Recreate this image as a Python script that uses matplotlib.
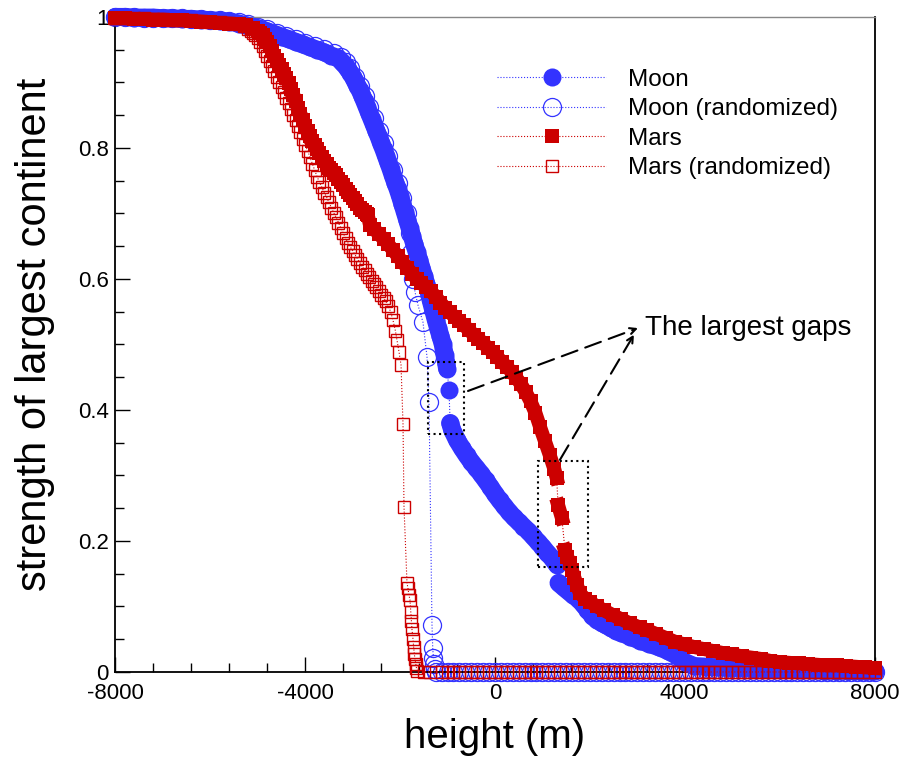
import matplotlib.pyplot as plt
from matplotlib.patches import Rectangle
from matplotlib.ticker import MultipleLocator

plt.rcParams['font.family'] = ['Liberation Sans', 'DejaVu Sans']

# values (height in m, strength of largest continent)
moon_h = [-8000, -7800, -7600, -7400, -7200, -7000, -6800, -6600, -6400, -6200, -6000, -5800, -5600, -5400,
          -5250, -5100, -4950, -4800, -4650, -4500, -4350, -4200, -4050, -3900, -3750, -3600, -3450, -3300,
          -3250, -3200, -3150, -3100, -3050, -3000, -2950, -2900, -2850, -2800, -2750, -2700, -2650, -2600,
          -2550, -2500, -2450, -2400, -2350, -2300, -2250, -2200, -2150, -2100, -2050, -2000, -1950, -1900,
          -1850, -1800, -1750, -1700, -1650, -1600, -1550, -1500, -1450, -1400, -1350, -1300, -1250, -1200,
          -1150, -1100, -1060, -1030, -1010, -970, -945,
          -900, -800, -700, -600, -500, -400, -300, -200, -100, 0, 100, 200, 300, 400, 500, 600, 700, 800,
          900, 1000, 1100, 1200, 1300,
          1340, 1450, 1550, 1650, 1750, 1850, 1950, 2050, 2150, 2250, 2350, 2450, 2550, 2650, 2850, 3050,
          3250, 3450, 3650, 3850, 4000,
          4200, 4450, 4700, 4950, 5200, 5450, 5700, 5950, 6200, 6450, 6700, 6950, 7200, 7450, 7700, 8000]
moon_v = [1.000, 1.000, 0.999, 0.999, 0.999, 0.998, 0.998, 0.997, 0.997, 0.996, 0.995, 0.994, 0.993, 0.990,
          0.987, 0.985, 0.982, 0.978, 0.974, 0.970, 0.966, 0.962, 0.958, 0.954, 0.950, 0.946, 0.941, 0.937,
          0.933, 0.929, 0.925, 0.920, 0.915, 0.909, 0.902, 0.895, 0.888, 0.880, 0.871, 0.862, 0.853, 0.844,
          0.835, 0.826, 0.817, 0.807, 0.798, 0.788, 0.778, 0.768, 0.757, 0.747, 0.737, 0.726, 0.714, 0.702,
          0.690, 0.678, 0.665, 0.653, 0.641, 0.629, 0.617, 0.605, 0.593, 0.580, 0.566, 0.552, 0.538, 0.525,
          0.513, 0.500, 0.484, 0.472, 0.463, 0.430, 0.380,
          0.369, 0.354, 0.342, 0.331, 0.321, 0.312, 0.303, 0.293, 0.283, 0.272, 0.262, 0.253, 0.244, 0.236,
          0.229, 0.222, 0.215, 0.207, 0.199, 0.191, 0.182, 0.174, 0.164,
          0.136, 0.129, 0.123, 0.117, 0.112, 0.104, 0.095, 0.086, 0.079, 0.075, 0.071, 0.067, 0.063, 0.060,
          0.054, 0.048, 0.043, 0.038, 0.032, 0.024, 0.015,
          0.009, 0.008, 0.007, 0.006, 0.006, 0.005, 0.005, 0.004, 0.004, 0.003, 0.003, 0.002, 0.002, 0.002,
          0.001, 0.001]
moon_gaps_after = [-1010, -970, 1300]

zero_tail_h = [-1250, -1125, -1000, -875, -750, -625, -500, -375, -250, -125, 0, 125, 250, 375, 500,
               625, 750, 875, 1000, 1125, 1250, 1375, 1500, 1625, 1750, 1875, 2000, 2125, 2250, 2375,
               2500, 2625, 2750, 2875, 3000, 3125, 3250, 3375, 3500, 3625, 3750, 3875, 4000, 4125, 4250,
               4375, 4500, 4625, 4750, 4875, 5000, 5125, 5250, 5375, 5500, 5625, 5750, 5875, 6000, 6125,
               6250, 6375, 6500, 6625, 6750, 6875, 7000, 7125, 7250, 7375, 7500, 7625, 7750, 7875, 8000]
zero_tail_v = [0.0, 0.0, 0.0, 0.0, 0.0, 0.0, 0.0, 0.0, 0.0, 0.0, 0.0, 0.0, 0.0, 0.0, 0.0,
               0.0, 0.0, 0.0, 0.0, 0.0, 0.0, 0.0, 0.0, 0.0, 0.0, 0.0, 0.0, 0.0, 0.0, 0.0,
               0.0, 0.0, 0.0, 0.0, 0.0, 0.0, 0.0, 0.0, 0.0, 0.0, 0.0, 0.0, 0.0, 0.0, 0.0,
               0.0, 0.0, 0.0, 0.0, 0.0, 0.0, 0.0, 0.0, 0.0, 0.0, 0.0, 0.0, 0.0, 0.0, 0.0,
               0.0, 0.0, 0.0, 0.0, 0.0, 0.0, 0.0, 0.0, 0.0, 0.0, 0.0, 0.0, 0.0, 0.0, 0.0]

moon_rand_h = [-8000, -7800, -7600, -7400, -7200, -7000, -6800, -6600, -6400, -6200, -6000, -5800, -5600,
               -5400, -5200, -5000, -4800, -4600, -4400, -4200, -4000, -3800, -3600, -3400, -3250, -3150,
               -3050, -2950, -2850, -2750, -2650, -2550, -2450, -2350, -2250, -2150, -2050, -1950, -1850,
               -1790, -1760, -1720, -1686, -1623, -1518, -1433, -1391, -1328, -1312, -1298, -1284, -1270]
moon_rand_v = [1.000, 1.000, 1.000, 0.999, 0.999, 0.999, 0.998, 0.998, 0.997, 0.997, 0.996, 0.995, 0.994,
               0.992, 0.989, 0.985, 0.981, 0.976, 0.971, 0.966, 0.961, 0.956, 0.951, 0.945, 0.939, 0.932,
               0.922, 0.909, 0.895, 0.880, 0.863, 0.845, 0.826, 0.807, 0.788, 0.767, 0.746, 0.723, 0.700,
               0.670, 0.640, 0.600, 0.580, 0.560, 0.534, 0.481, 0.412, 0.072, 0.036, 0.022, 0.012, 0.005]

mars_h = [-8000, -7800, -7600, -7400, -7200, -7000, -6800, -6600, -6400, -6200, -6000, -5800, -5600, -5400,
          -5250, -5100, -5000, -4950, -4900, -4850, -4800, -4750, -4700, -4650, -4600, -4550, -4500, -4450,
          -4400, -4350, -4300, -4250, -4200, -4150, -4100, -4050, -4000, -3950, -3900, -3850, -3800, -3750,
          -3700, -3650, -3600, -3550, -3500, -3450, -3400, -3350, -3300, -3250, -3200, -3150, -3100, -3050,
          -3000, -2950, -2900, -2850, -2800, -2750, -2700, -2680,
          -2635, -2550, -2450, -2350, -2250, -2150, -2050, -1950, -1850, -1750, -1650, -1550, -1450, -1350,
          -1250, -1150, -1050, -950, -850, -750, -650, -550, -450, -350, -250, -150, -50, 50, 150, 250,
          350, 450, 550, 650, 750, 850, 950, 1050, 1150, 1250, 1300,
          1330, 1410,
          1475, 1525, 1575, 1625, 1675, 1725, 1790, 1900, 2000, 2150, 2300, 2480, 2650, 2850, 3050, 3200,
          3400, 3600, 3800, 4000, 4200, 4400, 4600, 4800, 5000, 5200, 5400, 5600, 5800, 6000, 6200, 6400,
          6600, 6800, 7000, 7200, 7400, 7600, 7800, 8000]
mars_v = [0.998, 0.998, 0.997, 0.997, 0.996, 0.996, 0.995, 0.995, 0.994, 0.993, 0.992, 0.991, 0.990, 0.989,
          0.987, 0.983, 0.979, 0.976, 0.972, 0.967, 0.962, 0.955, 0.948, 0.941, 0.934, 0.927, 0.920, 0.913,
          0.907, 0.899, 0.890, 0.881, 0.871, 0.861, 0.852, 0.843, 0.834, 0.826, 0.818, 0.810, 0.804, 0.798,
          0.792, 0.786, 0.780, 0.775, 0.770, 0.766, 0.762, 0.758, 0.753, 0.748, 0.743, 0.738, 0.733, 0.728,
          0.723, 0.719, 0.714, 0.709, 0.705, 0.702, 0.699, 0.697,
          0.682, 0.676, 0.669, 0.661, 0.653, 0.644, 0.635, 0.626, 0.617, 0.608, 0.600, 0.594, 0.588, 0.581,
          0.573, 0.564, 0.556, 0.549, 0.542, 0.536, 0.529, 0.522, 0.515, 0.509, 0.502, 0.495, 0.488, 0.481,
          0.473, 0.466, 0.458, 0.449, 0.439, 0.427, 0.413, 0.396, 0.374, 0.353, 0.332, 0.310, 0.296,
          0.255, 0.235,
          0.186, 0.176, 0.166, 0.155, 0.144, 0.133, 0.120, 0.112, 0.107, 0.100, 0.094, 0.087, 0.081, 0.074,
          0.068, 0.064, 0.058, 0.052, 0.046, 0.042, 0.038, 0.035, 0.032, 0.029, 0.027, 0.024, 0.022, 0.020,
          0.017, 0.015, 0.014, 0.013, 0.012, 0.011, 0.010, 0.010, 0.009, 0.008, 0.007, 0.006]
mars_gaps_after = [1300, 1410]

mars_rand_h = [-8000, -7800, -7600, -7400, -7200, -7000, -6800, -6600, -6400, -6200, -6000, -5800, -5600,
               -5400, -5300, -5200, -5150, -5100, -5050, -5000, -4950, -4900, -4850, -4800, -4750, -4700,
               -4650, -4600, -4550, -4500, -4450, -4400, -4350, -4300, -4250, -4200, -4150, -4100, -4050,
               -4000, -3950, -3900, -3850, -3800, -3750, -3700, -3650, -3600, -3550, -3500, -3450, -3400,
               -3350, -3300, -3250, -3200, -3150, -3100, -3050, -3000, -2950, -2900, -2850, -2800, -2750,
               -2700, -2650, -2600, -2550, -2500, -2450, -2400, -2350, -2300, -2250, -2200, -2150, -2100,
               -2066, -2024, -1981, -1939, -1918, -1855, -1835, -1815, -1792, -1775, -1760, -1750, -1728,
               -1715, -1700, -1686, -1670, -1655, -1640, -1500, -1375]
mars_rand_v = [0.999, 0.999, 0.998, 0.998, 0.997, 0.997, 0.996, 0.995, 0.995, 0.994, 0.993, 0.992, 0.991,
               0.989, 0.986, 0.982, 0.979, 0.976, 0.972, 0.968, 0.962, 0.955, 0.948, 0.941, 0.933, 0.925,
               0.917, 0.909, 0.901, 0.893, 0.885, 0.877, 0.868, 0.860, 0.851, 0.842, 0.833, 0.824, 0.814,
               0.805, 0.796, 0.786, 0.776, 0.766, 0.756, 0.748, 0.740, 0.732, 0.725, 0.717, 0.709, 0.701,
               0.694, 0.686, 0.678, 0.670, 0.663, 0.655, 0.649, 0.643, 0.637, 0.631, 0.625, 0.619, 0.614,
               0.608, 0.603, 0.597, 0.592, 0.587, 0.581, 0.576, 0.571, 0.566, 0.559, 0.550, 0.537, 0.521,
               0.507, 0.489, 0.469, 0.379, 0.252, 0.136, 0.128, 0.118, 0.110, 0.092, 0.078, 0.065, 0.050,
               0.038, 0.027, 0.020, 0.012, 0.006, 0.002, 0.0, 0.0]

x_ticks = [-8000, -4000, 0, 4000, 8000]
y_ticks = [0, 0.2, 0.4, 0.6, 0.8, 1]
y_tick_labels = ['0', '0.2', '0.4', '0.6', '0.8', '1']

blue = '#3333ff'
red = '#cc0000'


def split_runs(h, v, gaps_after):
    # contiguous runs of points, broken where the curve shows a visible gap
    runs, cur_h, cur_v = [], [], []
    for x, y in zip(h, v):
        cur_h.append(x)
        cur_v.append(y)
        if x in gaps_after:
            runs.append((cur_h, cur_v))
            cur_h, cur_v = [], []
    if cur_h:
        runs.append((cur_h, cur_v))
    return runs


fig = plt.figure(figsize=(9.05, 7.61), dpi=100)
ax = fig.add_axes([0.1276, 0.117, 0.8387, 0.8607])

# the dense markers of the filled series merge into solid bands
for rh, rv in split_runs(moon_h, moon_v, moon_gaps_after):
    ax.plot(rh, rv, color=blue, lw=13, solid_capstyle='round', solid_joinstyle='round',
            clip_on=False, zorder=3)
for rh, rv in split_runs(mars_h, mars_v, mars_gaps_after):
    ax.plot(rh, rv, color=red, lw=10, solid_capstyle='projecting', solid_joinstyle='miter',
            clip_on=False, zorder=5)

l_moon_r, = ax.plot(moon_rand_h + zero_tail_h, moon_rand_v + zero_tail_v, ls=':', lw=0.8, color=blue,
                    marker='o', ms=13, mfc='none', mec=blue, mew=0.9, clip_on=False, zorder=2.5,
                    label='Moon (randomized)')
l_moon, = ax.plot(moon_h, moon_v, ls=':', lw=0.8, color=blue, marker='o', ms=13,
                  mfc=blue, mec=blue, mew=0, clip_on=False, zorder=3, label='Moon')
l_mars_r, = ax.plot(mars_rand_h + zero_tail_h[1:], mars_rand_v + zero_tail_v[1:], ls=':', lw=0.8,
                    color=red, marker='s', ms=9, mfc='none', mec=red, mew=1.0, clip_on=False, zorder=4,
                    label='Mars (randomized)')
l_mars, = ax.plot(mars_h, mars_v, ls=':', lw=0.8, color=red, marker='s', ms=9.5,
                  mfc=red, mec=red, mew=0, clip_on=False, zorder=5, label='Mars')

ax.set_xlim(-8000, 8000)
ax.set_ylim(0, 1)
ax.set_xticks(x_ticks)
ax.set_xticklabels([str(t) for t in x_ticks])
ax.set_yticks(y_ticks)
ax.set_yticklabels(y_tick_labels)
ax.xaxis.set_minor_locator(MultipleLocator(800))
ax.yaxis.set_minor_locator(MultipleLocator(0.05))
ax.tick_params(which='both', direction='in', top=False, right=False, width=1, labelsize=16)
ax.tick_params(which='major', length=11)
ax.tick_params(which='minor', length=6.5)
ax.tick_params(axis='x', pad=8)
ax.tick_params(axis='y', pad=5)

for side in ['left', 'bottom', 'right']:
    ax.spines[side].set_color('black')
    ax.spines[side].set_linewidth(1.3)
ax.spines['top'].set_color('#888888')
ax.spines['top'].set_linewidth(1)

fig.text(0.547, 0.0315, 'height (m)', fontsize=29, ha='center', va='center')
fig.text(0.0387, 0.56, 'strength of largest continent', fontsize=30, rotation=90,
         ha='center', va='center')

ax.legend(handles=[l_moon, l_moon_r, l_mars, l_mars_r], loc='upper left',
          bbox_to_anchor=(0.5026, 0.921), frameon=False, fontsize=17.5, handlelength=4.5,
          handletextpad=0.9, labelspacing=0.31, borderpad=0, borderaxespad=0, numpoints=1)

# boxes around the largest gaps
ax.add_patch(Rectangle((-1419, 0.363), 766, 0.110, fill=False, ec='black', lw=1.5, ls=':', zorder=6))
ax.add_patch(Rectangle((913, 0.161), 1054, 0.161, fill=False, ec='black', lw=1.5, ls=':', zorder=6))

ax.text(3162, 0.525, 'The largest gaps', fontsize=20, ha='left', va='center')
arrow = dict(arrowstyle='->', lw=1.5, ls=(0, (8, 4)), color='black', shrinkA=0, shrinkB=0,
             mutation_scale=11)
ax.annotate('', xy=(3014, 0.525), xytext=(-569, 0.429), arrowprops=arrow, zorder=7)
ax.annotate('', xy=(2930, 0.515), xytext=(1370, 0.324), arrowprops=arrow, zorder=7)

fig.savefig('out.png', dpi=100)
